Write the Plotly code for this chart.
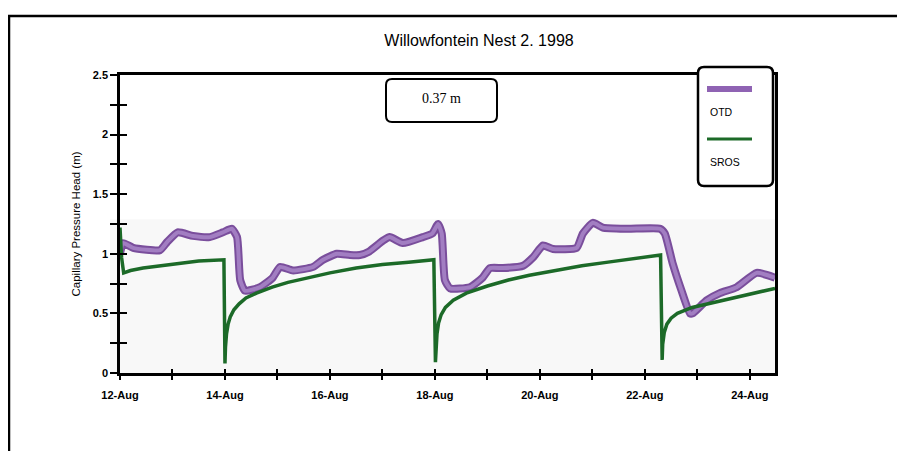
import pandas as pd
import plotly.graph_objects as go

# values (day of August 1998, capillary pressure head in m)
otd_day = [12.0, 12.06, 12.25, 12.76, 12.9, 13.1, 13.39, 13.71, 13.96, 14.13, 14.23, 14.29, 14.38,
           14.67, 14.91, 15.05, 15.3, 15.68, 15.87, 16.13, 16.38, 16.57, 16.75, 17.01, 17.14, 17.39,
           17.77, 17.95, 18.06, 18.13, 18.19, 18.29, 18.67, 18.91, 19.05, 19.3, 19.68, 19.87, 20.06,
           20.25, 20.7, 20.82, 21.01, 21.2, 21.66, 22.29, 22.38, 22.53, 22.7, 22.86, 22.91, 23.18,
           23.43, 23.75, 24.13, 24.48]
otd_val = [1.00, 1.09, 1.05, 1.03, 1.10, 1.18, 1.15, 1.14, 1.18, 1.21, 1.14, 0.78, 0.69,
           0.72, 0.80, 0.89, 0.86, 0.89, 0.95, 1.00, 0.99, 0.99, 1.02, 1.11, 1.14, 1.09,
           1.14, 1.17, 1.25, 1.17, 0.78, 0.71, 0.72, 0.80, 0.88, 0.88, 0.90, 0.97, 1.07,
           1.04, 1.05, 1.17, 1.26, 1.22, 1.21, 1.21, 1.17, 0.92, 0.69, 0.50, 0.50, 0.61,
           0.67, 0.72, 0.84, 0.80]

sros_day = [12.0, 12.03, 12.07, 12.2, 12.44, 12.8, 13.09, 13.5, 13.98, 14.0, 14.01, 14.03, 14.06,
            14.1, 14.17, 14.27, 14.4, 14.6, 14.9, 15.2, 15.6, 16.0, 16.5, 17.0, 17.5, 17.98,
            18.01, 18.02, 18.04, 18.07, 18.12, 18.2, 18.35, 18.6, 19.0, 19.4, 19.8, 20.3, 20.8,
            21.3, 21.8, 22.3, 22.33, 22.34, 22.37, 22.42, 22.5, 22.62, 22.9, 23.2, 23.5, 24.0, 24.48]
sros_val = [1.22, 0.97, 0.84, 0.86, 0.88, 0.90, 0.92, 0.94, 0.95, 0.08, 0.22, 0.33, 0.41,
            0.47, 0.53, 0.58, 0.63, 0.67, 0.72, 0.76, 0.80, 0.84, 0.88, 0.91, 0.93, 0.95,
            0.09, 0.22, 0.33, 0.42, 0.49, 0.55, 0.61, 0.67, 0.73, 0.78, 0.82, 0.86, 0.90,
            0.93, 0.96, 0.99, 0.11, 0.24, 0.34, 0.41, 0.46, 0.50, 0.55, 0.58, 0.61, 0.66, 0.71]

x_labels = ["12-Aug", "14-Aug", "16-Aug", "18-Aug", "20-Aug", "22-Aug", "24-Aug"]
series_names = ["OTD", "SROS"]
note_text = "0.37 m"

base = pd.Timestamp("1998-08-12")
def to_dates(days):
    return [base + pd.Timedelta(days=d - 12) for d in days]

PURPLE = "#8f63b3"
GREEN = "#1c6a28"
FONT = "Liberation Sans, Arial, sans-serif"
NARROW = "Liberation Sans Narrow, " + FONT

# plot area in screenshot pixels; the page body adds an 8px offset
OFF = 8
L, R, T, B = 120, 775, 75, 373
W, H = 905 - OFF, 451 - OFF
def fx(px):
    return (px - L) / (R - L)
def fy(py):
    return (B - py) / (B - T)

def rounded_box(x0, y0, x1, y1, r=6):
    # pixel box -> paper path with rounded corners
    rx, ry = r / (R - L), r / (B - T)
    a, b, c, d = fx(x0), fx(x1), fy(y0), fy(y1)  # a left, b right, c top, d bottom
    return (f"M {a+rx},{c} L {b-rx},{c} Q {b},{c} {b},{c-ry} L {b},{d+ry} Q {b},{d} {b-rx},{d} "
            f"L {a+rx},{d} Q {a},{d} {a},{d+ry} L {a},{c-ry} Q {a},{c} {a+rx},{c} Z")

fig = go.Figure()
fig.add_trace(go.Scatter(x=to_dates(otd_day), y=otd_val, mode="lines", name=series_names[0],
                         line=dict(color="#7a4e9c", width=8, shape="spline", smoothing=0.5)))
fig.add_trace(go.Scatter(x=to_dates(otd_day), y=otd_val, mode="lines", name=series_names[0],
                         line=dict(color="#a27ec2", width=4, shape="spline", smoothing=0.5)))
fig.add_trace(go.Scatter(x=to_dates(sros_day), y=sros_val, mode="lines", name=series_names[1],
                         line=dict(color=GREEN, width=3.5)))
# dummy trace so the overlay axes (inner half of the cross ticks) get drawn
fig.add_trace(go.Scatter(x=[base], y=[-1], xaxis="x2", yaxis="y2", mode="markers",
                         marker=dict(opacity=0), hoverinfo="skip"))

xrange = [base, base + pd.Timedelta(days=12.48)]
fig.update_layout(
    width=W, height=H,
    margin=dict(l=L - OFF, r=W - (R - OFF), t=T - OFF, b=H - (B - OFF), autoexpand=False),
    paper_bgcolor="white", plot_bgcolor="rgba(0,0,0,0)",
    showlegend=False,
    font=dict(family=FONT, color="black"),
    title=dict(text="Willowfontein Nest 2. 1998", x=fx(479), xref="paper", xanchor="center",
               y=1 - (40 - OFF) / H, yanchor="middle",
               font=dict(family=NARROW, size=16)),
    xaxis=dict(range=xrange, showgrid=False, zeroline=False, showline=True, linecolor="black",
               linewidth=2.5, mirror=True, ticks="outside", ticklen=4, tickwidth=1.5, tickcolor="black",
               tickvals=to_dates([12, 14, 16, 18, 20, 22, 24]), ticktext=x_labels,
               minor=dict(dtick=86400000, tick0=base, ticks="outside", ticklen=4, tickwidth=1.5,
                          tickcolor="black"),
               tickfont=dict(family=NARROW, size=11, weight="bold"), ticklabelstandoff=6),
    yaxis=dict(range=[0, 2.5], showgrid=False, zeroline=False, showline=True, linecolor="black",
               linewidth=2.5, mirror=True, ticks="outside", ticklen=7, tickwidth=2, tickcolor="black",
               dtick=0.5,
               minor=dict(dtick=0.25, ticks="outside", ticklen=7, tickwidth=2, tickcolor="black"),
               tickfont=dict(family=NARROW, size=11, weight="bold"),
               title=dict(text="Capillary Pressure Head (m)", font=dict(family=FONT, size=11.5), standoff=10)),
    xaxis2=dict(overlaying="x", anchor="y2", side="bottom", range=xrange, showgrid=False, zeroline=False,
                showticklabels=False, ticks="inside", ticklen=4, tickwidth=1.5, tickcolor="black",
                tickvals=to_dates([12, 14, 16, 18, 20, 22, 24]),
                minor=dict(dtick=86400000, tick0=base, ticks="inside", ticklen=4, tickwidth=1.5,
                           tickcolor="black")),
    yaxis2=dict(overlaying="y", anchor="x2", side="left", range=[0, 2.5], showgrid=False, zeroline=False,
                showticklabels=False, ticks="inside", ticklen=7, tickwidth=2, tickcolor="black", dtick=0.5,
                minor=dict(dtick=0.25, ticks="inside", ticklen=7, tickwidth=2, tickcolor="black")),
)

shapes = [
    # faint grey band of the scan behind the curves
    dict(type="rect", xref="paper", yref="y", x0=fx(110), x1=1, y0=0, y1=1.29,
         fillcolor="#f8f8f8", line=dict(width=0), layer="below"),
    # outer frame of the figure
    dict(type="rect", xref="paper", yref="paper", x0=fx(9), x1=fx(899), y0=fy(16), y1=fy(470),
         line=dict(color="black", width=2.5)),
    # note box
    dict(type="path", xref="paper", yref="paper", path=rounded_box(386, 79, 497, 122),
         line=dict(color="black", width=2), fillcolor="white"),
    # legend box
    dict(type="path", xref="paper", yref="paper", path=rounded_box(698, 67, 773, 186),
         line=dict(color="black", width=2.5), fillcolor="white"),
    # legend samples
    dict(type="line", xref="paper", yref="paper", x0=fx(707), x1=fx(752), y0=fy(89), y1=fy(89),
         line=dict(color=PURPLE, width=6)),
    dict(type="line", xref="paper", yref="paper", x0=fx(707), x1=fx(752), y0=fy(139), y1=fy(139),
         line=dict(color=GREEN, width=3)),
]
fig.update_layout(shapes=shapes)

annotations = [
    dict(text=note_text, xref="paper", yref="paper", x=fx(441), y=fy(98), yanchor="middle",
         showarrow=False, font=dict(family="Liberation Serif, Times New Roman, serif", size=14)),
    dict(text=series_names[0], xref="paper", yref="paper", x=fx(708), y=fy(112), xanchor="left",
         yanchor="middle", showarrow=False, font=dict(family=FONT, size=10.5)),
    dict(text=series_names[1], xref="paper", yref="paper", x=fx(708), y=fy(162), xanchor="left",
         yanchor="middle", showarrow=False, font=dict(family=FONT, size=10.5)),
]
fig.update_layout(annotations=annotations)

fig.write_html("out.html")
